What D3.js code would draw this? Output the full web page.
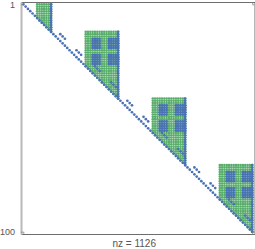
<!DOCTYPE html>
<html>
<head>
<meta charset="utf-8">
<script src="https://cdn.jsdelivr.net/npm/d3@7"></script>
<style>
  html, body { margin: 0; padding: 0; background: #fff; }
  text { font-family: "Liberation Sans", sans-serif; }
</style>
</head>
<body>
<div id="my_spy_plot"></div>
<script>
// Matrix size and tick labels
const matrixSize = 100
const tickLabels = [1, 100]
const xLabel = "nz = 1126"

// Green blocks above the diagonal: [first col, last col, first row]
const greenBlocks = [
  [7, 13, 1],
  [28, 42, 13],
  [57, 71, 42],
  [86, 100, 71]
]

// Solid blue patches inside the blocks: [first col, last col, first row, last row]
const bluePatches = [
  [31, 34, 16, 20], [38, 42, 16, 20], [31, 34, 23, 27], [38, 42, 23, 27],
  [60, 63, 45, 49], [67, 71, 45, 49], [60, 63, 52, 56], [67, 71, 52, 56],
  [89, 92, 74, 78], [96, 100, 74, 78], [89, 92, 81, 85], [96, 100, 81, 85]
]

// Short blue runs parallel to the diagonal: [first col, first row]
const blueRuns = [
  [17, 14], [24, 21], [32, 28], [39, 35],
  [46, 43], [53, 50], [61, 57], [68, 64],
  [75, 72], [82, 79], [90, 86], [97, 93]
]
const runLength = 3

// Last column of each block is blue all the way down
const blueColumns = greenBlocks.map(b => [b[1], b[2]])

function draw_spy_plot() {
  const margin = { top: 2, right: 0.5, bottom: 15, left: 21 },
    width = 255 - margin.left - margin.right,
    height = 249 - margin.top - margin.bottom

  const green = []
  const blue = []

  greenBlocks.forEach(function (b) {
    for (let c = b[0]; c <= b[1]; c++) {
      for (let r = b[2]; r <= c; r++) green.push({ c: c, r: r })
    }
  })
  bluePatches.forEach(function (p) {
    for (let c = p[0]; c <= p[1]; c++) {
      for (let r = p[2]; r <= p[3]; r++) blue.push({ c: c, r: r })
    }
  })
  blueColumns.forEach(function (b) {
    for (let r = b[1]; r <= b[0]; r++) blue.push({ c: b[0], r: r })
  })
  blueRuns.forEach(function (b) {
    for (let i = 0; i < runLength; i++) blue.push({ c: b[0] + i, r: b[1] + i })
  })
  d3.range(1, matrixSize + 1).forEach(function (i) {
    blue.push({ c: i, r: i })
  })

  const svg = d3
    .select("#my_spy_plot")
    .append("svg")
    .attr("width", 255)
    .attr("height", 249)
    .style("display", "block")
    .append("g")
    .attr("transform", "translate(" + margin.left + "," + margin.top + ")")

  const x = d3.scaleLinear().domain([0, matrixSize + 1]).range([0, width])
  const y = d3.scaleLinear().domain([0, matrixSize + 1]).range([0, height])

  const drawDots = function (rows, color, r) {
    svg
      .append("g")
      .selectAll("circle")
      .data(rows)
      .enter()
      .append("circle")
      .attr("cx", d => x(d.c))
      .attr("cy", d => y(d.r))
      .attr("r", r)
      .style("fill", color)
  }
  drawDots(green, "#5aae6c", 1.3)
  drawDots(blue, "#4a72b5", 1.35)

  // Axes: left spine is lighter and thicker in the reference
  const styleAxis = function (g, color, w) {
    g.selectAll(".domain").attr("stroke", color).attr("stroke-width", w)
    g.selectAll("line").attr("stroke", "#777").attr("stroke-width", 0.7)
  }
  const tick = 2.3
  svg.append("g").call(d3.axisTop(x).tickValues(tickLabels).tickSizeInner(-tick).tickSizeOuter(0).tickFormat(""))
    .call(styleAxis, "#6e6e6e", 1)
  svg.append("g").attr("transform", "translate(0," + height + ")")
    .call(d3.axisBottom(x).tickValues(tickLabels).tickSizeInner(-tick).tickSizeOuter(0).tickFormat(""))
    .call(styleAxis, "#6e6e6e", 1)
  svg.append("g").attr("transform", "translate(" + width + ",0)")
    .call(d3.axisRight(y).tickValues(tickLabels).tickSizeInner(-tick).tickSizeOuter(0).tickFormat(""))
    .call(styleAxis, "#6e6e6e", 1)
  const leftAxis = svg.append("g")
    .call(d3.axisLeft(y).tickValues(tickLabels).tickSizeInner(-tick).tickSizeOuter(0).tickPadding(6))
    .call(styleAxis, "#b9b9b9", 2)
  leftAxis.selectAll("text").style("font-size", "9px").style("font-family", "Liberation Sans").attr("fill", "#555")

  svg.append("text")
    .attr("x", width / 2 - 3.5)
    .attr("y", height + 12.5)
    .attr("text-anchor", "middle")
    .style("font-size", "10px")
    .attr("fill", "#555")
    .text(xLabel)
}

draw_spy_plot()
</script>
</body>
</html>
